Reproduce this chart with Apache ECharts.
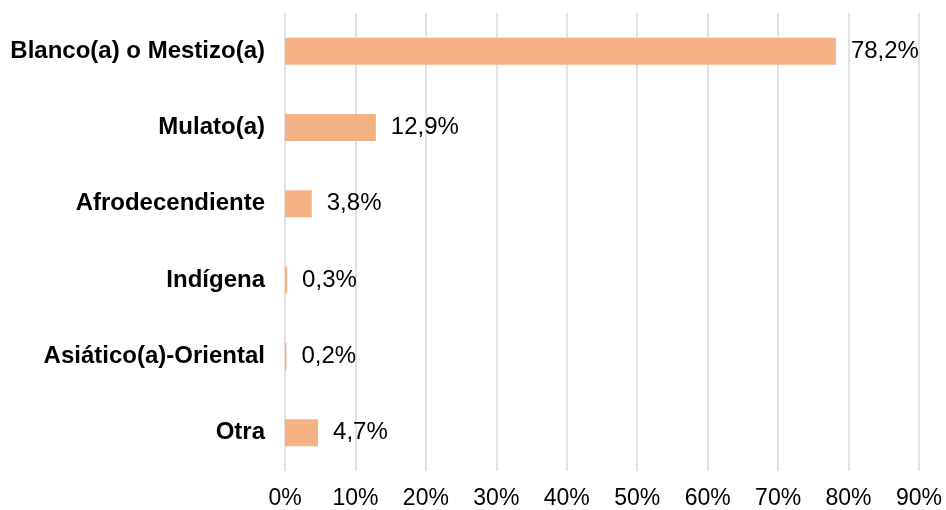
<!DOCTYPE html>
<html>
<head>
<meta charset="utf-8">
<script src="https://cdn.jsdelivr.net/npm/echarts@6/dist/echarts.min.js"></script>
<style>html,body{margin:0;padding:0;background:#fff}#c{width:946px;height:510px}</style>
</head>
<body>
<div id="c"></div>
<script>
const categories = ["Blanco(a) o Mestizo(a)", "Mulato(a)", "Afrodecendiente", "Indígena", "Asiático(a)-Oriental", "Otra"];
const values = [78.2, 12.9, 3.8, 0.3, 0.2, 4.7];
const tickStep = 10;
const axisMax = 90;

const chart = echarts.init(document.getElementById('c'), null, {renderer: 'canvas'});
chart.setOption({
  animation: false,
  backgroundColor: '#ffffff',
  grid: {left: 285, right: 27, top: 13, bottom: 39, containLabel: false},
  xAxis: {
    type: 'value', min: 0, max: axisMax, interval: tickStep,
    axisLine: {show: false}, axisTick: {show: false},
    splitLine: {show: true, lineStyle: {color: '#D9D9D9', width: 1.5}},
    axisLabel: {formatter: v => v + '%', color: '#000', fontSize: 23, fontFamily: 'Liberation Sans, Arial, sans-serif', margin: 16}
  },
  yAxis: {
    type: 'category', data: categories, inverse: true,
    axisLine: {show: false}, axisTick: {show: false},
    axisLabel: {color: '#000', fontSize: 24, fontWeight: 'bold', fontFamily: 'Liberation Sans, Arial, sans-serif', margin: 20}
  },
  series: [{
    type: 'bar', data: values, barWidth: 27,
    itemStyle: {color: '#F4B183'},
    label: {show: true, position: 'right', distance: 15, color: '#000', fontSize: 24,
      fontFamily: 'Liberation Sans, Arial, sans-serif',
      formatter: p => p.value.toFixed(1).replace('.', ',') + '%'}
  }]
});
</script>
</body>
</html>
